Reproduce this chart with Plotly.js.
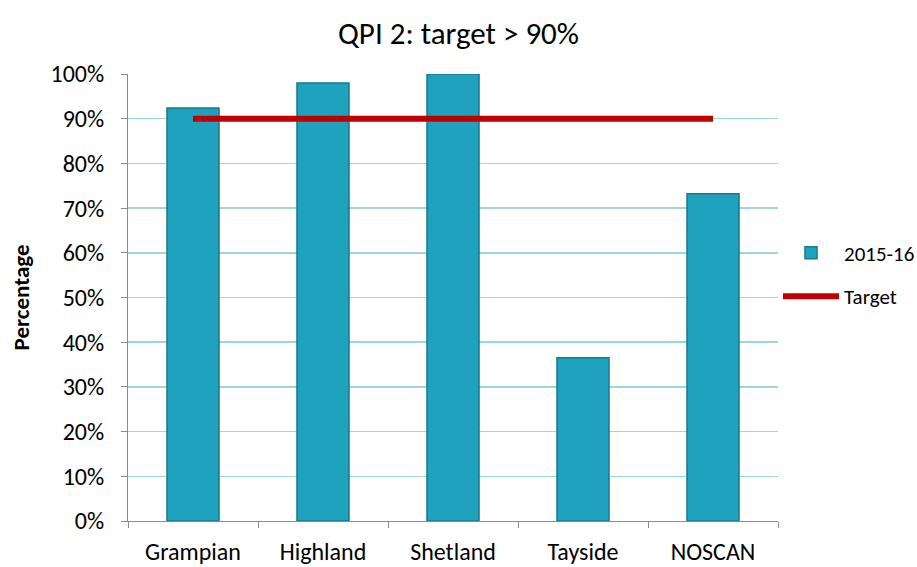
<!DOCTYPE html>
<html>
<head>
<meta charset="utf-8">
<script src="https://cdn.plot.ly/plotly-3.0.1.min.js"></script>
<style>
  html, body { margin: 0; padding: 0; background: #ffffff; }
  #chart { width: 917px; height: 567px; }
</style>
</head>
<body>
<div id="chart"></div>
<script>
// Boards reporting on QPI 2 and the share meeting the standard
const boards = ['Grampian', 'Highland', 'Shetland', 'Tayside', 'NOSCAN'];
const pct2015 = [0.924, 0.980, 1.000, 0.365, 0.732];
const targetValue = 0.90;
const targetBoards = ['Grampian', 'NOSCAN'];
const targetLine = targetBoards.map(() => targetValue);

const fontFamily = 'Carlito, "Open Sans", "Liberation Sans", sans-serif';

const traces = [
  {
    type: 'bar',
    name: '2015-16',
    legendgroup: 'bars',
    x: boards,
    y: pct2015,
    marker: {
      color: '#1FA2BE',
      line: { color: '#17788E', width: 1.5 }
    },
    hoverinfo: 'x+y'
  },
  {
    type: 'scatter',
    mode: 'lines',
    name: 'Target',
    legendgroup: 'target',
    x: targetBoards,
    y: targetLine,
    line: { color: '#C00000', width: 6 }
  }
];

const layout = {
  width: 917,
  height: 567,
  margin: { l: 128, r: 139, t: 74, b: 46, autoexpand: false },
  paper_bgcolor: '#ffffff',
  plot_bgcolor: '#ffffff',
  font: { family: fontFamily, size: 20, color: '#000000' },
  title: {
    text: 'QPI 2: target > 90%',
    font: { family: fontFamily, size: 31, color: '#000000' },
    x: 0.5,
    xanchor: 'center',
    y: 0.942,
    yanchor: 'middle'
  },
  bargap: 0.6,
  showlegend: true,
  legend: {
    x: 1.0,
    xanchor: 'left',
    y: 0.645,
    yanchor: 'top',
    traceorder: 'grouped',
    font: { family: fontFamily, size: 21, color: '#000000' },
    itemwidth: 56,
    tracegroupgap: 13,
    bgcolor: 'rgba(0,0,0,0)'
  },
  xaxis: {
    type: 'category',
    categoryorder: 'array',
    categoryarray: boards,
    showgrid: false,
    showline: true,
    linecolor: '#8c8c8c',
    linewidth: 1,
    ticks: 'outside',
    tickson: 'boundaries',
    ticklen: 6,
    tickcolor: '#8c8c8c',
    ticklabelstandoff: 9,
    tickfont: { family: fontFamily, size: 24, color: '#000000' },
    fixedrange: true
  },
  yaxis: {
    range: [0, 1],
    dtick: 0.1,
    tickformat: '.0%',
    showgrid: true,
    gridcolor: '#9ED3E0',
    gridwidth: 1.5,
    zeroline: false,
    showline: true,
    linecolor: '#8c8c8c',
    linewidth: 1,
    ticks: 'outside',
    ticklen: 6,
    tickcolor: '#8c8c8c',
    ticklabelstandoff: 12,
    tickfont: { family: fontFamily, size: 24, color: '#000000' },
    title: {
      text: '<b>Percentage</b>',
      font: { family: fontFamily, size: 23, color: '#000000' },
      standoff: 14
    },
    fixedrange: true
  }
};

Plotly.newPlot('chart', traces, layout, { displayModeBar: false, staticPlot: true });
</script>
</body>
</html>
